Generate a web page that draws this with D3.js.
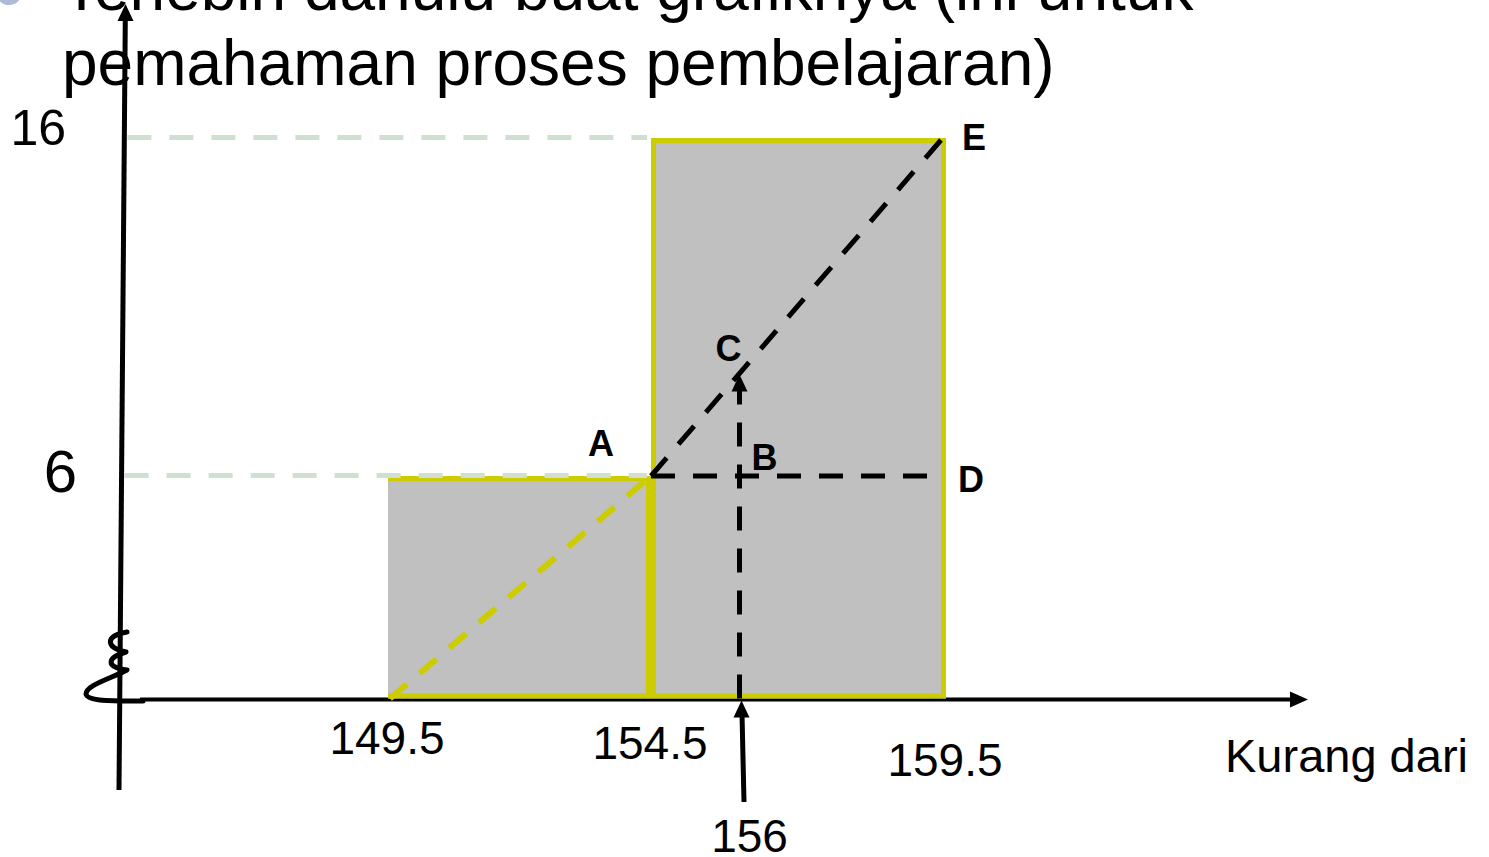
<!DOCTYPE html>
<html>
<head>
<meta charset="utf-8">
<script src="https://cdn.jsdelivr.net/npm/d3@7"></script>
<style>
  html, body { margin: 0; padding: 0; background: #ffffff; overflow: hidden; }
  svg { display: block; font-family: "Liberation Sans", Arial, Helvetica, sans-serif; }
</style>
</head>
<body>
<svg id="chart" width="1489" height="857"></svg>
<script>
// Ogive construction ("kurang dari") for interpolating the value at 156
const titleLines = ["Terlebih dahulu buat grafiknya (ini untuk", "pemahaman proses pembelajaran)"];
const boundaries = [149.5, 154.5, 159.5];     // class boundaries on the x axis
const cumFreq = [6, 16];                        // cumulative frequency of each class
const yTickValues = [16, 6];
const xTickLabels = ["149.5", "154.5", "159.5"];
const target = 156;                             // value to locate
const xAxisTitle = "Kurang dari";

// Derived construction points
const bins = cumFreq.map((v, i) => ({ x0: boundaries[i], x1: boundaries[i + 1], value: v }));
const cValue = cumFreq[0] + (target - boundaries[1]) / (boundaries[2] - boundaries[1]) * (cumFreq[1] - cumFreq[0]);
const points = [
  { name: "A", x: boundaries[1], y: cumFreq[0] },
  { name: "B", x: target,        y: cumFreq[0] },
  { name: "C", x: target,        y: cValue },
  { name: "D", x: boundaries[2], y: cumFreq[0] },
  { name: "E", x: boundaries[2], y: cumFreq[1] }
];

const svg = d3.select("#chart");

// Hand-drawn sketch proportions: piecewise linear scales
const x = d3.scaleLinear().domain([boundaries[0], boundaries[1], boundaries[2]]).range([388, 651, 946]);
const y = d3.scaleLinear().domain([0, cumFreq[0], cumFreq[1]]).range([698.5, 476, 138]);

const YELLOW = "#cccc00";
const GREY = "#c0c0c0";
const GUIDE = "#d0e0d0";

// bullet + title
svg.append("circle").attr("cx", 9).attr("cy", -8).attr("r", 13).attr("fill", "#aebbd6");
svg.append("g").selectAll("text").data(titleLines).join("text")
  .attr("x", 62).attr("y", (d, i) => 10 + i * 75)
  .attr("font-size", 64).attr("fill", "#000")
  .text(d => d);

// x axis (drawn under the bars)
const axisY = y(0) + 1;
svg.append("line").attr("x1", 140).attr("x2", 1292).attr("y1", axisY).attr("y2", axisY)
  .attr("stroke", "#000").attr("stroke-width", 4);
svg.append("path").attr("d", `M1308,${axisY} L1290,${axisY - 8} L1290,${axisY + 8} Z`).attr("fill", "#000");

// break squiggle near the origin
svg.append("path")
  .attr("d", "M127,632 C104,636 106,648 126,652 C108,657 104,667 127,670 C110,679 86,685 86,694 C87,702 118,701 143,701")
  .attr("fill", "none").attr("stroke", "#000").attr("stroke-width", 5)
  .attr("stroke-linecap", "round").attr("stroke-linejoin", "round");

// histogram bars
const s = 2.5;
svg.append("g").selectAll("rect").data(bins).join("rect")
  .attr("x", d => x(d.x0)).attr("y", d => y(d.value))
  .attr("width", d => x(d.x1) - x(d.x0)).attr("height", d => y(0) - y(d.value))
  .attr("fill", GREY);
svg.append("g").selectAll("path").data(bins).join("path")
  .attr("d", (d, i) => {
    const l = x(d.x0) + s, r = x(d.x1) - s, t = y(d.value) + s, b = y(0) - s;
    return i === 0
      ? `M${x(d.x0)},${t} H${r} V${b} H${x(d.x0)}`
      : `M${l},${b} V${t} H${r} V${b} Z`;
  })
  .attr("fill", "none").attr("stroke", YELLOW).attr("stroke-width", 5).attr("stroke-linejoin", "miter");

// y axis, slightly slanted
const yAxisTop = { x: 125.5, y: 4 }, yAxisBottom = { x: 119, y: 790 };
const axisXAt = yy => yAxisTop.x + (yy - yAxisTop.y) / (yAxisBottom.y - yAxisTop.y) * (yAxisBottom.x - yAxisTop.x);

// dashed guide lines from the y axis
svg.append("g").selectAll("line").data(yTickValues).join("line")
  .attr("x1", d => axisXAt(y(d)) + 3).attr("x2", x(boundaries[1]) - 4)
  .attr("y1", d => y(d) - 0.5).attr("y2", d => y(d) - 0.5)
  .attr("stroke", GUIDE).attr("stroke-width", 5).attr("stroke-dasharray", "24,18");

svg.append("line").attr("x1", yAxisTop.x - 0.2).attr("y1", yAxisTop.y + 14)
  .attr("x2", yAxisBottom.x).attr("y2", yAxisBottom.y)
  .attr("stroke", "#000").attr("stroke-width", 5);
svg.append("path")
  .attr("d", `M${yAxisTop.x},${yAxisTop.y} L${yAxisTop.x - 8},${yAxisTop.y + 17} L${yAxisTop.x + 8},${yAxisTop.y + 17} Z`)
  .attr("fill", "#000");

// yellow dashed diagonal from the origin of the first class to A
const pA = points[0], pC = points[2], pD = points[3], pE = points[4];
svg.append("line")
  .attr("x1", x(boundaries[0]) + 2).attr("y1", y(0))
  .attr("x2", x(pA.x)).attr("y2", y(pA.y))
  .attr("stroke", YELLOW).attr("stroke-width", 6).attr("stroke-dasharray", "22,17");

// black dashed construction lines
function dashLine(x1, y1, x2, y2) {
  return svg.append("line").attr("x1", x1).attr("y1", y1).attr("x2", x2).attr("y2", y2)
    .attr("stroke", "#000").attr("stroke-width", 5).attr("stroke-dasharray", "24,18");
}
dashLine(x(pA.x), y(pA.y), x(pE.x) - 5, y(pE.y) + 2);          // A -> E
dashLine(x(pA.x), y(pA.y), x(pD.x) - 8, y(pD.y));              // A -> D
dashLine(x(target), y(0), x(target), y(pC.y) + 14);            // 156 -> C
svg.append("path")
  .attr("d", `M${x(pC.x)},${y(pC.y)} L${x(pC.x) - 8},${y(pC.y) + 17} L${x(pC.x) + 8},${y(pC.y) + 17} Z`)
  .attr("fill", "#000");

// arrow pointing to 156 on the x axis
svg.append("line").attr("x1", x(target) + 4.5).attr("y1", 802).attr("x2", x(target) + 2.5).attr("y2", axisY + 14)
  .attr("stroke", "#000").attr("stroke-width", 5);
svg.append("path")
  .attr("d", `M${x(target) + 2},${axisY + 1} L${x(target) - 6},${axisY + 18} L${x(target) + 10},${axisY + 18} Z`)
  .attr("fill", "#000");

// point letters
const letterOffset = { A: [-50, -20, "middle"], B: [25, -6, "middle"], C: [-11, -14, "middle"], D: [12, 16, "start"], E: [16, 12, "start"] };
svg.append("g").selectAll("text").data(points).join("text")
  .attr("x", d => x(d.x) + letterOffset[d.name][0])
  .attr("y", d => y(d.y) + letterOffset[d.name][1])
  .attr("text-anchor", d => letterOffset[d.name][2])
  .attr("font-size", 36).attr("font-weight", "bold").attr("fill", "#000")
  .text(d => d.name);

// y tick labels
const yLabelStyle = { 16: { size: 50, right: 66, drop: 7 }, 6: { size: 60, right: 77, drop: 16 } };
svg.append("g").selectAll("text").data(yTickValues).join("text")
  .attr("x", d => yLabelStyle[d].right).attr("y", d => y(d) + yLabelStyle[d].drop)
  .attr("text-anchor", "end").attr("font-size", d => yLabelStyle[d].size).attr("fill", "#000")
  .text(d => d);

// x tick labels
const xLabelDrop = [55, 60, 77];
svg.append("g").selectAll("text").data(boundaries).join("text")
  .attr("x", d => x(d) - 1).attr("y", (d, i) => y(0) + xLabelDrop[i])
  .attr("text-anchor", "middle").attr("font-size", 46).attr("fill", "#000")
  .text((d, i) => xTickLabels[i]);

svg.append("text").attr("x", x(target) + 10).attr("y", 852)
  .attr("text-anchor", "middle").attr("font-size", 46).attr("fill", "#000")
  .text(String(target));

svg.append("text").attr("x", 1225).attr("y", 772)
  .attr("font-size", 47).attr("fill", "#000")
  .text(xAxisTitle);
</script>
</body>
</html>
